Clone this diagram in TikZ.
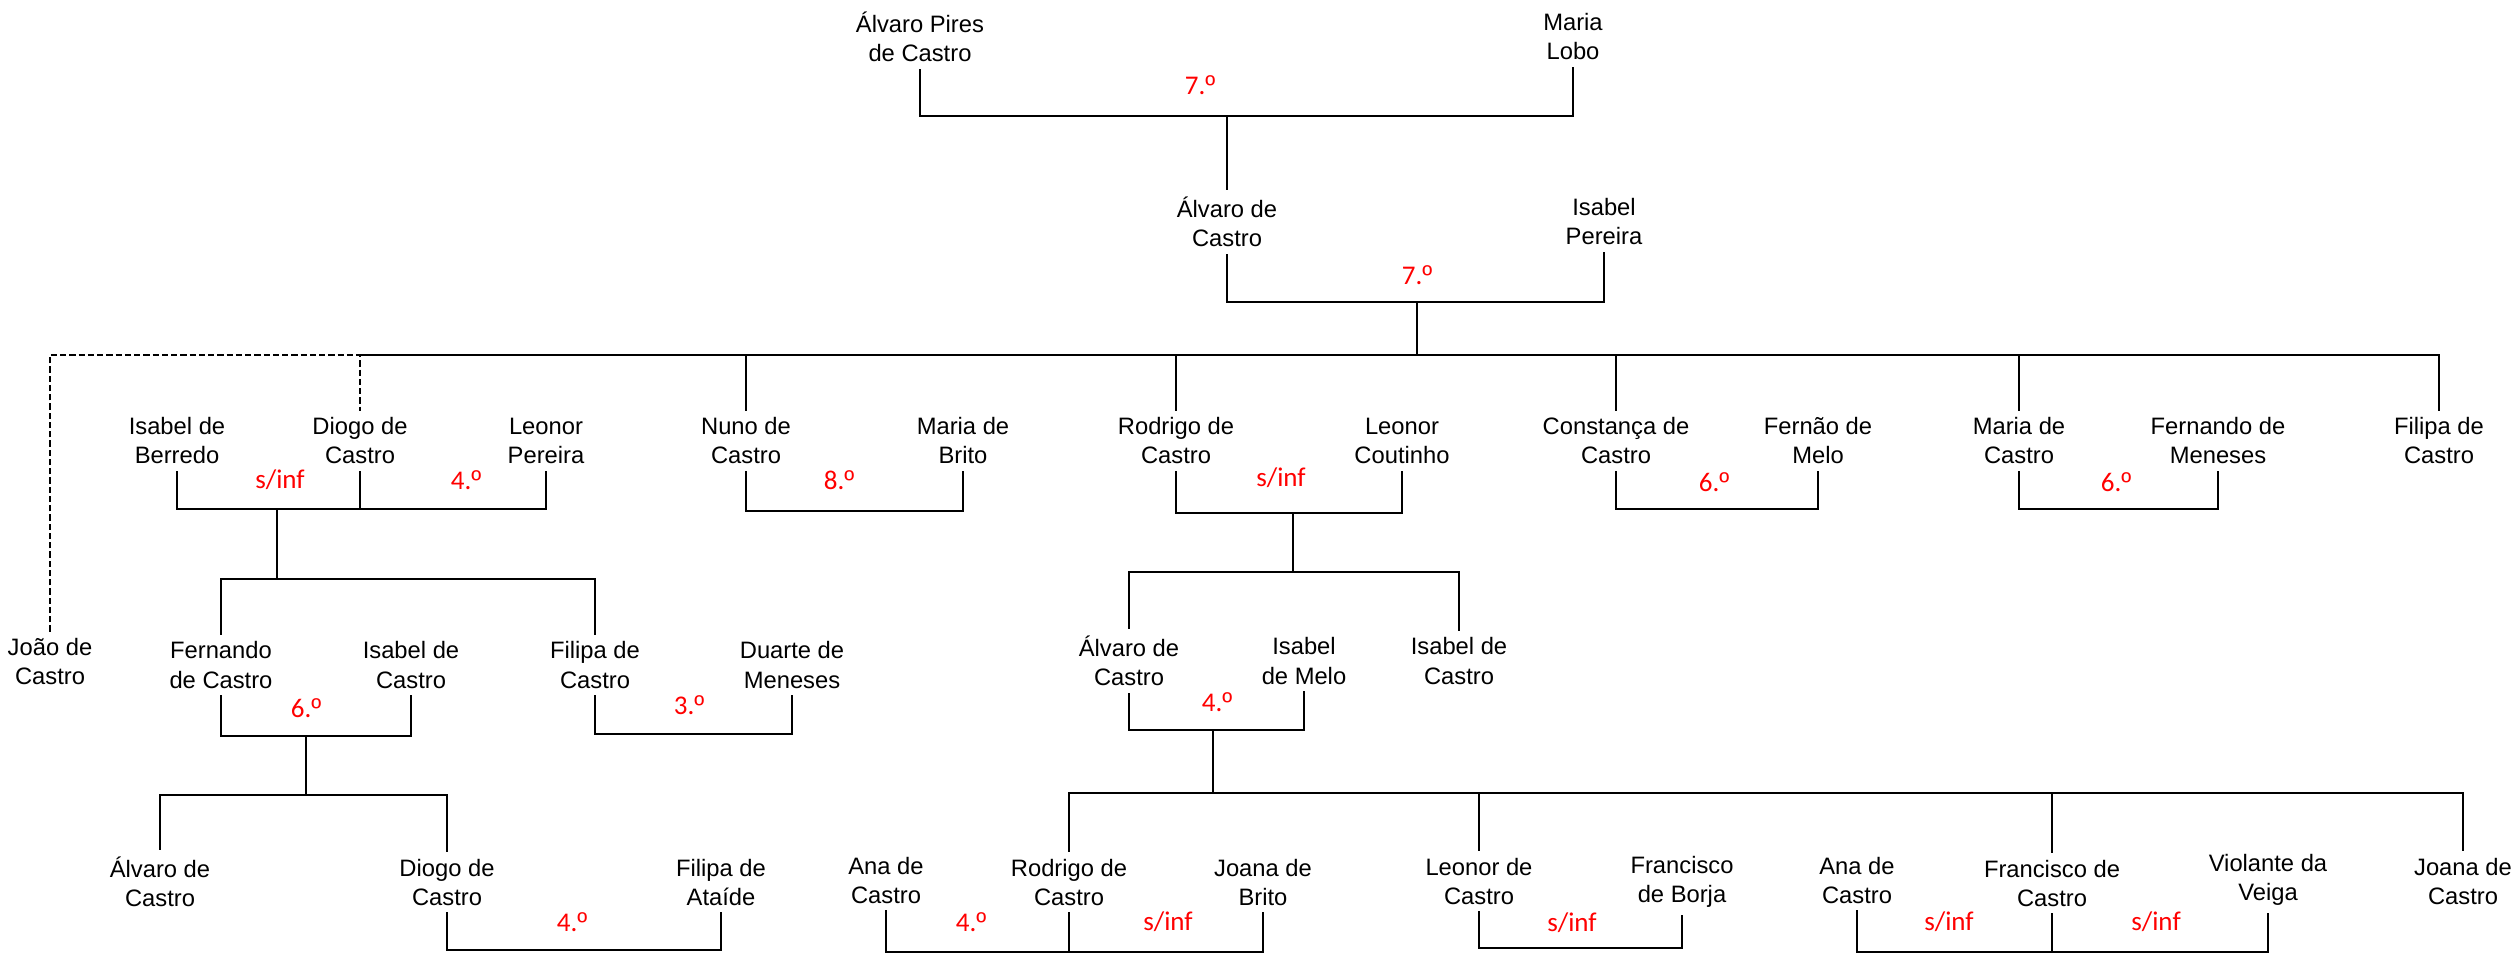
\documentclass[tikz,border=0pt]{standalone}
\usepackage{fontspec}
\setmainfont{Liberation Sans}
\newfontfamily\calib{Carlito}
\newcommand\om{{\rmfamily º}}
\usetikzlibrary{positioning}

\begin{document}
\begin{tikzpicture}[x=0.4pt, y=-0.4pt, line width=0.7pt,
    nm/.style={align=center, inner sep=2.5pt, font=\fontsize{9.5}{11.6}\selectfont},
    mar/.style={text=red, inner sep=1pt, font=\calib\fontsize{10.8}{12}\selectfont},
    dline/.style={dash pattern=on 2.5pt off 1.2pt}]
	\useasboundingbox (0,0) rectangle (2520,954);

	% generation 1
	\node[nm] (apc) at (920,37) {Álvaro Pires\\de Castro};
	\node[nm] (mlo) at (1573,37) {Maria\\Lobo};
	\node[mar] (c1) at (1200,85) {7.\om};
	\coordinate (u1) at (1227,116);
	\draw (apc.south) |- (u1) -| (mlo.south);

	% generation 2
	\node[nm] (adc) at (1227,222) {Álvaro de\\Castro};
	\node[nm] (ipe) at (1604,222) {Isabel\\Pereira};
	\node[mar] (c2) at (1417,275) {7.\om};
	\coordinate (u2) at (1417,302);
	\draw (u1) -- (adc.north);
	\draw (adc.south) |- (u2) -| (ipe.south);

	% generation 3
	\node[nm] (ibe) at (177,441) {Isabel de\\Berredo};
	\node[nm] (dgc) at (360,441) {Diogo de\\Castro};
	\node[nm] (lpe) at (546,441) {Leonor\\Pereira};
	\node[nm] (nuc) at (746,441) {Nuno de\\Castro};
	\node[nm] (mbr) at (963,441) {Maria de\\Brito};
	\node[nm] (rdc) at (1176,441) {Rodrigo de\\Castro};
	\node[nm] (lco) at (1402,441) {Leonor\\Coutinho};
	\node[nm] (cdc) at (1616,441) {Constança de\\Castro};
	\node[nm] (fme) at (1818,441) {Fernão de\\Melo};
	\node[nm] (mdc) at (2019,441) {Maria de\\Castro};
	\node[nm] (fmn) at (2218,441) {Fernando de\\Meneses};
	\node[nm] (fpc) at (2439,441) {Filipa de\\Castro};
	\node[nm] (jdc) at (50,662) {João de\\Castro};
	\coordinate (k2) at (1417,355);
	\draw (u2) -- (k2);
	\draw[dline] (jdc.north) |- (dgc.north |- k2) -- (dgc.north);
	\draw (dgc.north |- k2) -| (fpc.north);
	\foreach \n in {nuc,rdc,cdc,mdc}
		\draw (\n.north |- k2) -- (\n.north);

	\node[mar] (c3) at (280,480) {s/inf};
	\node[mar] (c4) at (466,480) {4.\om};
	\node[mar] (c5) at (839,480) {8.\om};
	\node[mar] (c6) at (1281,478) {s/inf};
	\node[mar] (c7) at (1714,482) {6.\om};
	\node[mar] (c8) at (2116,482) {6.\om};
	\coordinate (u3) at (277,509);
	\coordinate (u4) at (855,511);
	\coordinate (u5) at (1293,513);
	\coordinate (u6) at (1718,509);
	\coordinate (u7) at (2119,509);
	\draw (ibe.south) |- (u3) -| (lpe.south);
	\draw (dgc.south) -- (dgc.south |- u3);
	\draw (nuc.south) |- (u4) -| (mbr.south);
	\draw (rdc.south) |- (u5) -| (lco.south);
	\draw (cdc.south) |- (u6) -| (fme.south);
	\draw (mdc.south) |- (u7) -| (fmn.south);

	% generation 4
	\node[nm] (fdc) at (221,665) {Fernando\\de Castro};
	\node[nm] (idc) at (411,665) {Isabel de\\Castro};
	\node[nm] (fic) at (595,665) {Filipa de\\Castro};
	\node[nm] (dme) at (792,665) {Duarte de\\Meneses};
	\node[nm] (adc2) at (1129,661) {Álvaro de\\Castro};
	\node[nm] (ime) at (1304,661) {Isabel\\de Melo};
	\node[nm] (isc) at (1459,661) {Isabel de\\Castro};
	\coordinate (k3) at (277,579);
	\coordinate (k5) at (1293,572);
	\draw (u3) -- (k3);
	\draw (fdc.north) |- (k3) -| (fic.north);
	\draw (u5) -- (k5);
	\draw (adc2.north) |- (k5) -| (isc.north);

	\node[mar] (c9) at (306,708) {6.\om};
	\node[mar] (c10) at (689,705) {3.\om};
	\node[mar] (c11) at (1217,702) {4.\om};
	\coordinate (u8) at (306,736);
	\coordinate (u9) at (689,734);
	\coordinate (u10) at (1213,730);
	\draw (fdc.south) |- (u8) -| (idc.south);
	\draw (fic.south) |- (u9) -| (dme.south);
	\draw (adc2.south) |- (u10) -| (ime.south);

	% generation 5
	\node[nm] (adc3) at (160,882) {Álvaro de\\Castro};
	\node[nm] (dgc2) at (447,882) {Diogo de\\Castro};
	\node[nm] (fat) at (721,882) {Filipa de\\Ataíde};
	\node[nm] (anc) at (886,880) {Ana de\\Castro};
	\node[nm] (rdc2) at (1069,882) {Rodrigo de\\Castro};
	\node[nm] (jbr) at (1263,882) {Joana de\\Brito};
	\node[nm] (ldc) at (1479,881) {Leonor de\\Castro};
	\node[nm] (fbo) at (1682,882) {Francisco\\de Borja};
	\node[nm] (anc2) at (1857,880) {Ana de\\Castro};
	\node[nm] (frc) at (2052,883) {Francisco de\\Castro};
	\node[nm] (vve) at (2268,880) {Violante da\\Veiga};
	\node[nm] (jdc2) at (2463,881) {Joana de\\Castro};
	\coordinate (k8) at (306,795);
	\coordinate (k10) at (1213,793);
	\draw (u8) -- (k8);
	\draw (adc3.north) |- (k8) -| (dgc2.north);
	\draw (u10) -- (k10);
	\draw (rdc2.north) |- (k10) -| (jdc2.north);
	\foreach \n in {ldc,frc}
		\draw (\n.north |- k10) -- (\n.north);

	\node[mar] (c12) at (572,922) {4.\om};
	\node[mar] (c13) at (971,922) {4.\om};
	\node[mar] (c14) at (1168,922) {s/inf};
	\node[mar] (c15) at (1572,923) {s/inf};
	\node[mar] (c16) at (1949,922) {s/inf};
	\node[mar] (c17) at (2156,922) {s/inf};
	\coordinate (u11) at (585,950);
	\coordinate (u12) at (1069,952);
	\coordinate (u13) at (1580,948);
	\coordinate (u14) at (2052,952);
	\draw (dgc2.south) |- (u11) -| (fat.south);
	\draw (anc.south) |- (u12) -| (jbr.south);
	\draw (rdc2.south) -- (u12);
	\draw (ldc.south) |- (u13) -| (fbo.south);
	\draw (anc2.south) |- (u14) -| (vve.south);
	\draw (frc.south) -- (u14);
\end{tikzpicture}
\end{document}
